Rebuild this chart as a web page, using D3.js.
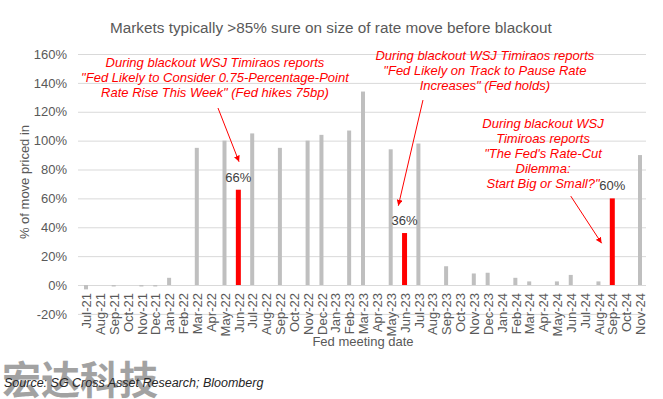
<!DOCTYPE html>
<html>
<head>
<meta charset="utf-8">
<script src="https://cdn.jsdelivr.net/npm/d3@7"></script>
<style>
  body { margin: 0; background: #fff; }
  svg { font-family: "Liberation Sans", Arial, sans-serif; }
</style>
</head>
<body>
<div id="plot"></div>
<script>
// Fed meetings, Jul-21 .. Nov-24 (null = no meeting that month)
const months = ["Jul-21", "Aug-21", "Sep-21", "Oct-21", "Nov-21", "Dec-21",
  "Jan-22", "Feb-22", "Mar-22", "Apr-22", "May-22", "Jun-22", "Jul-22", "Aug-22", "Sep-22", "Oct-22", "Nov-22", "Dec-22",
  "Jan-23", "Feb-23", "Mar-23", "Apr-23", "May-23", "Jun-23", "Jul-23", "Aug-23", "Sep-23", "Oct-23", "Nov-23", "Dec-23",
  "Jan-24", "Feb-24", "Mar-24", "Apr-24", "May-24", "Jun-24", "Jul-24", "Aug-24", "Sep-24", "Oct-24", "Nov-24"];
const pricedIn = [-3, null, -1, null, -1, -1,
  5, null, 95, null, 100, 66, 105, null, 95, null, 100, 104,
  null, 107, 134, null, 94, 36, 98, null, 13, null, 8, 8.5,
  null, 5, 2.5, null, 2.5, 7, null, 2.5, 60, null, 90];
const blackoutMeetings = ["Jun-22", "Jun-23", "Sep-24"];
const yTicks = [-20, 0, 20, 40, 60, 80, 100, 120, 140, 160];

const note1 = ["During blackout WSJ Timiraos reports",
  "\"Fed Likely to Consider 0.75-Percentage-Point",
  "Rate Rise This Week\" (Fed hikes 75bp)"];
const note2 = ["During blackout WSJ Timiraos reports",
  "\"Fed Likely on Track to Pause Rate",
  "Increases\" (Fed holds)"];
const note3 = ["During blackout WSJ", "Timiroas reports",
  "\"The Fed's Rate-Cut", "Dilemma:", "Start Big or Small?\""];

const width = 663;
const height = 399;
const grey = "#595959";
const red = "#ff0000";

const svg = d3.select("#plot").append("svg")
  .attr("width", width)
  .attr("height", height);

const x = d3.scalePoint().domain(months).range([86, 640]);
const y = d3.scaleLinear().domain([-20, 160]).range([313.9, 54]);

// fractional month position, used to place the annotations
const xAt = i => x(months[0]) + i * x.step();

// title
svg.append("text")
  .attr("x", 110).attr("y", 33)
  .attr("font-size", 15.3).attr("fill", grey)
  .text("Markets typically >85% sure on size of rate move before blackout");

// gridlines + y labels
const yAxis = svg.append("g")
  .attr("transform", "translate(78,0)")
  .call(d3.axisLeft(y).tickValues(yTicks).tickSize(-(646 - 78)).tickPadding(11).tickFormat(d => d + "%"));
yAxis.select(".domain").remove();
yAxis.selectAll("line").attr("stroke", "#d9d9d9");
yAxis.selectAll("text").attr("font-size", 13).attr("fill", grey).attr("font-family", null);

svg.append("text")
  .attr("transform", "translate(29,182) rotate(-90)")
  .attr("text-anchor", "middle")
  .attr("font-size", 13).attr("fill", grey)
  .text("% of move priced in");

// x labels
const xAxis = svg.append("g")
  .attr("transform", `translate(0,${y(0)})`)
  .call(d3.axisBottom(x).tickSize(0).tickPadding(0));
xAxis.select(".domain").remove();
xAxis.selectAll("text")
  .attr("font-size", 13).attr("fill", grey).attr("font-family", null)
  .attr("text-anchor", "end")
  .attr("transform", "rotate(-90)")
  .attr("x", -8).attr("y", 0).attr("dy", "0.36em");

svg.append("text")
  .attr("x", 363).attr("y", 346)
  .attr("text-anchor", "middle")
  .attr("font-size", 13).attr("fill", grey)
  .text("Fed meeting date");

// bars
const meetings = months.map((m, i) => ({ month: m, value: pricedIn[i] }))
  .filter(d => d.value !== null);
const isBlackout = d => blackoutMeetings.includes(d.month);

svg.append("g").selectAll("rect")
  .data(meetings)
  .enter().append("rect")
  .attr("x", d => x(d.month) - (isBlackout(d) ? 2.5 : 2))
  .attr("width", d => isBlackout(d) ? 5 : 4)
  .attr("y", d => y(Math.max(0, d.value)))
  .attr("height", d => Math.abs(y(d.value) - y(0)))
  .attr("fill", d => isBlackout(d) ? red : "#bfbfbf");

svg.append("g").selectAll("text")
  .data(meetings.filter(isBlackout))
  .enter().append("text")
  .attr("x", d => x(d.month))
  .attr("y", d => y(d.value) - 8)
  .attr("text-anchor", "middle")
  .attr("font-size", 13).attr("fill", "#404040")
  .text(d => d.value + "%");

// annotations
svg.append("defs").append("marker")
  .attr("id", "arrow")
  .attr("viewBox", "0 0 10 10")
  .attr("refX", 10).attr("refY", 5)
  .attr("markerWidth", 6).attr("markerHeight", 6)
  .attr("orient", "auto")
  .append("path")
  .attr("d", "M0,0L10,5L0,10z")
  .attr("fill", red);

function annotate(lines, cx, top, from, to) {
  const t = svg.append("text")
    .attr("text-anchor", "middle")
    .attr("font-size", 13).attr("font-style", "italic")
    .attr("fill", red);
  t.selectAll("tspan")
    .data(lines)
    .enter().append("tspan")
    .attr("x", xAt(cx))
    .attr("y", (d, i) => y(top) + i * 15)
    .text(d => d);
  svg.append("line")
    .attr("x1", xAt(from[0])).attr("y1", y(from[1]))
    .attr("x2", xAt(to[0])).attr("y2", y(to[1]))
    .attr("stroke", red).attr("stroke-width", 1)
    .attr("marker-end", "url(#arrow)");
}

annotate(note1, 9.31, 151, [9.53, 122.6], [11.05, 85.4]);
annotate(note2, 28.8, 155.8, [24.33, 128.1], [22.55, 54.9]);
annotate(note3, 33, 108.7, [35, 61.6], [37.23, 28.9]);

// watermark + source
svg.append("text")
  .attr("x", 2).attr("y", 394)
  .attr("font-family", "'Noto Sans CJK SC', sans-serif")
  .attr("font-weight", "bold")
  .attr("font-size", 39)
  .attr("fill", "#999").attr("opacity", 0.9)
  .text("宏达科技");

svg.append("text")
  .attr("x", 4).attr("y", 387)
  .attr("font-size", 12.5).attr("font-style", "italic")
  .attr("fill", "#262626")
  .text("Source: SG Cross Asset Research; Bloomberg");
</script>
</body>
</html>
